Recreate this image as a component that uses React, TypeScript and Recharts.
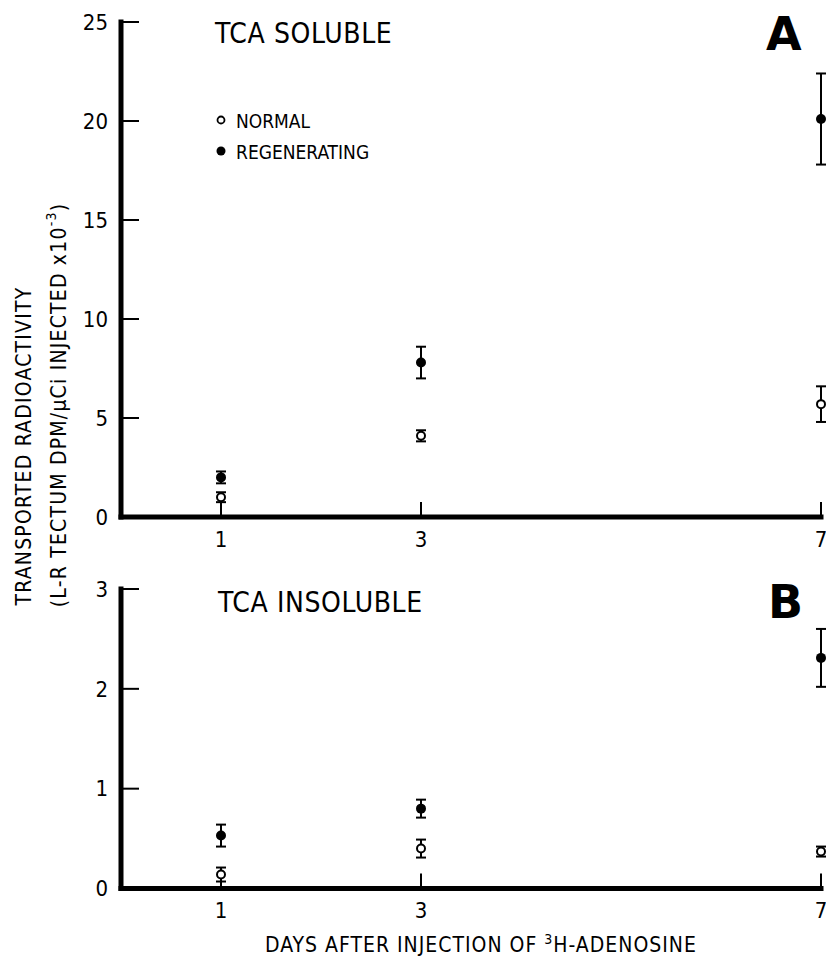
import React from 'react';
import { ScatterChart, Scatter, XAxis, YAxis, ErrorBar } from 'recharts';

// days after injection
const DAYS = [1, 3, 7];
const X_TICKS = [1, 3, 7];

// panel A: TCA soluble (x10^-3)
const SOLUBLE_NORMAL = [1.0, 4.1, 5.7];
const SOLUBLE_NORMAL_ERR = [0.25, 0.28, 0.9];
const SOLUBLE_REGEN = [2.0, 7.8, 20.1];
const SOLUBLE_REGEN_ERR = [0.3, 0.8, 2.3];
const Y_TICKS_A = [0, 5, 10, 15, 20, 25];

// panel B: TCA insoluble
const INSOLUBLE_NORMAL = [0.14, 0.4, 0.37];
const INSOLUBLE_NORMAL_ERR = [0.07, 0.09, 0.05];
const INSOLUBLE_REGEN = [0.53, 0.8, 2.31];
const INSOLUBLE_REGEN_ERR = [0.11, 0.09, 0.29];
const Y_TICKS_B = [0, 1, 2, 3];

const LEGEND_LABELS = ['NORMAL', 'REGENERATING'];

const FONT = "'Liberation Sans Narrow', 'DejaVu Sans Condensed', 'DejaVu Sans', sans-serif";

function toPoints(values: number[], errs: number[]) {
  return DAYS.map((day, i) => ({ day, value: values[i], err: errs[i] }));
}

const OpenDot = (p: any) => (
  <circle cx={p.cx} cy={p.cy} r={4} fill="#fff" stroke="#000" strokeWidth={2} />
);
const FilledDot = (p: any) => <circle cx={p.cx} cy={p.cy} r={5} fill="#000" />;

const axisLine = { stroke: '#000', strokeWidth: 5, strokeLinecap: 'square' as const };
const tickLine = { stroke: '#000', strokeWidth: 2 };
const tickStyle = { fill: '#000', fontSize: 22, fontFamily: FONT };

function Panel({
  top,
  height,
  marginTop,
  marginBottom,
  yMax,
  yTicks,
  normal,
  regen,
}: {
  top: number;
  height: number;
  marginTop: number;
  marginBottom: number;
  yMax: number;
  yTicks: number[];
  normal: { day: number; value: number; err: number }[];
  regen: { day: number; value: number; err: number }[];
}) {
  return (
    <div style={{ position: 'absolute', left: 0, top }}>
      <ScatterChart
        width={826}
        height={height}
        margin={{ top: marginTop, right: 5, bottom: marginBottom, left: 61 }}
      >
        <XAxis
          type="number"
          dataKey="day"
          domain={[0, 7]}
          ticks={X_TICKS}
          interval={0}
          height={30}
          axisLine={axisLine}
          tickLine={tickLine}
          tickSize={-15}
          tickMargin={29}
          tick={tickStyle}
        />
        <YAxis
          type="number"
          dataKey="value"
          domain={[0, yMax]}
          ticks={yTicks}
          interval={0}
          width={60}
          axisLine={axisLine}
          tickLine={tickLine}
          tickSize={-18}
          tickMargin={31}
          tick={tickStyle}
        />
        <Scatter name="NORMAL" data={normal} shape={OpenDot} isAnimationActive={false}>
          <ErrorBar dataKey="err" direction="y" width={5} strokeWidth={2} stroke="#000" isAnimationActive={false} />
        </Scatter>
        <Scatter name="REGENERATING" data={regen} shape={FilledDot} isAnimationActive={false}>
          <ErrorBar dataKey="err" direction="y" width={5} strokeWidth={2} stroke="#000" isAnimationActive={false} />
        </Scatter>
      </ScatterChart>
    </div>
  );
}

export default function App() {
  return (
    <div
      style={{
        position: 'absolute',
        left: 0,
        top: 0,
        width: 826,
        height: 957,
        background: '#fff',
        fontFamily: FONT,
      }}
    >
      <Panel
        top={0}
        height={560}
        marginTop={22}
        marginBottom={13}
        yMax={25}
        yTicks={Y_TICKS_A}
        normal={toPoints(SOLUBLE_NORMAL, SOLUBLE_NORMAL_ERR)}
        regen={toPoints(SOLUBLE_REGEN, SOLUBLE_REGEN_ERR)}
      />
      <Panel
        top={560}
        height={370}
        marginTop={29}
        marginBottom={11.5}
        yMax={3}
        yTicks={Y_TICKS_B}
        normal={toPoints(INSOLUBLE_NORMAL, INSOLUBLE_NORMAL_ERR)}
        regen={toPoints(INSOLUBLE_REGEN, INSOLUBLE_REGEN_ERR)}
      />

      {/* titles, legend and axis titles */}
      <svg
        width={826}
        height={957}
        style={{ position: 'absolute', left: 0, top: 0, pointerEvents: 'none' }}
        fontFamily={FONT}
      >
        <text x={215} y={43} fontSize={28} letterSpacing={0.6}>TCA SOLUBLE</text>
        <text x={218} y={612} fontSize={28} letterSpacing={0.6}>TCA INSOLUBLE</text>
        <text x={766} y={50} fontSize={46} fontWeight="bold" fontFamily="'DejaVu Sans', sans-serif">A</text>
        <text x={768} y={618} fontSize={46} fontWeight="bold" fontFamily="'DejaVu Sans', sans-serif">B</text>

        <circle cx={221} cy={120} r={3.5} fill="#fff" stroke="#000" strokeWidth={1.8} />
        <text x={236} y={128} fontSize={19}>{LEGEND_LABELS[0]}</text>
        <circle cx={221} cy={151} r={4.5} fill="#000" />
        <text x={236} y={159} fontSize={19}>{LEGEND_LABELS[1]}</text>

        <text x={265} y={952} fontSize={21} letterSpacing={1}>
          DAYS AFTER INJECTION OF <tspan dy={-8} fontSize={14}>3</tspan>
          <tspan dy={8}>H-ADENOSINE</tspan>
        </text>

        <text
          x={24}
          y={446}
          fontSize={21}
          letterSpacing={1.2}
          textAnchor="middle"
          dominantBaseline="central"
          transform="rotate(-90 24 446)"
        >
          TRANSPORTED RADIOACTIVITY
        </text>
        <text
          x={59}
          y={405}
          fontSize={21}
          letterSpacing={1.2}
          textAnchor="middle"
          dominantBaseline="central"
          transform="rotate(-90 59 405)"
        >
          (L-R TECTUM DPM/μCi INJECTED x10<tspan dy={-8} fontSize={14}>-3</tspan>
          <tspan dy={8}>)</tspan>
        </text>
      </svg>
    </div>
  );
}
